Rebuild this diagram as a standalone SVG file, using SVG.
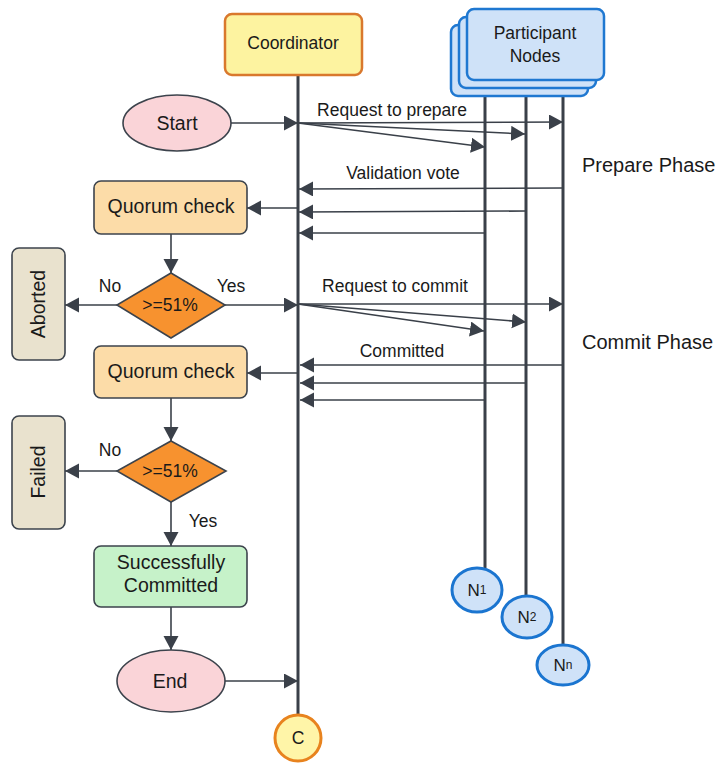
<svg xmlns="http://www.w3.org/2000/svg" width="719" height="764" viewBox="0 0 719 764">
<defs>
<marker id="ah" markerUnits="userSpaceOnUse" markerWidth="15" markerHeight="16" refX="14" refY="7.5" orient="auto">
<path d="M0,0 L14,7.5 L0,15 z" fill="#3a4049"/>
</marker>
<style>
text{font-family:"Liberation Sans",Arial,sans-serif;fill:#1a1a1a;dominant-baseline:central}
.n{font-size:19.5px;text-anchor:middle}
.e{font-size:17.5px;text-anchor:middle}
.p{font-size:20px}
.ln{stroke:#3a4049;stroke-width:1.6;fill:none}
.arr{stroke:#3a4049;stroke-width:1.6;fill:none;marker-end:url(#ah)}
.life{stroke:#3a4049;stroke-width:3;fill:none}
.box{stroke:#3c434c;stroke-width:1.6}
.pbox{fill:#cfe2f8;stroke:#1f78d1;stroke-width:2.5}
</style>
</defs>
<rect width="719" height="764" fill="#ffffff"/>

<g id="lifelines">
<line class="life" x1="298" y1="75" x2="298" y2="715"/>
<line class="life" x1="485" y1="80" x2="485" y2="568"/>
<line class="life" x1="526" y1="80" x2="526" y2="597"/>
<line class="life" x1="563" y1="80" x2="563" y2="646"/>
</g>

<g id="coordinator">
<rect x="225" y="14" width="137" height="61" rx="7" fill="#fdf3a0" stroke="#d9782d" stroke-width="2.5"/>
<text class="e" x="293" y="43">Coordinator</text>
</g>

<g id="participants">
<rect class="pbox" x="451" y="25" width="137" height="71" rx="7"/>
<rect class="pbox" x="459" y="17" width="137" height="71" rx="7"/>
<rect class="pbox" x="467" y="9" width="137" height="71" rx="7"/>
<text class="e" x="535" y="33">Participant</text>
<text class="e" x="535" y="56">Nodes</text>
</g>

<g id="connectors">
<line class="arr" x1="231" y1="123" x2="298" y2="123"/>
<line class="arr" x1="298" y1="123" x2="563" y2="122"/>
<line class="arr" x1="298" y1="123" x2="525" y2="134"/>
<line class="arr" x1="298" y1="123" x2="485" y2="147"/>
<line class="arr" x1="563" y1="188" x2="299" y2="189"/>
<line class="arr" x1="526" y1="211" x2="299" y2="212"/>
<line class="arr" x1="485" y1="233" x2="299" y2="233"/>
<line class="arr" x1="298" y1="208" x2="247" y2="208"/>
<line class="arr" x1="171" y1="234" x2="171" y2="273"/>
<line class="arr" x1="117" y1="305" x2="65" y2="305"/>
<line class="arr" x1="225" y1="305" x2="298" y2="305"/>
<line class="arr" x1="298" y1="304" x2="563" y2="304"/>
<line class="arr" x1="298" y1="304" x2="526" y2="322"/>
<line class="arr" x1="298" y1="304" x2="484" y2="331"/>
<line class="arr" x1="563" y1="365" x2="300" y2="365"/>
<line class="arr" x1="526" y1="383" x2="300" y2="383"/>
<line class="arr" x1="485" y1="400" x2="300" y2="400"/>
<line class="arr" x1="298" y1="373" x2="247" y2="373"/>
<line class="arr" x1="171" y1="398" x2="171" y2="441"/>
<line class="arr" x1="117" y1="471" x2="65" y2="471"/>
<line class="arr" x1="171" y1="502" x2="171" y2="546"/>
<line class="arr" x1="171" y1="607" x2="171" y2="650"/>
<line class="arr" x1="225" y1="681" x2="298" y2="681"/>
<text class="e" x="392" y="110">Request to prepare</text>
<text class="e" x="403" y="173">Validation vote</text>
<text class="e" x="395" y="286">Request to commit</text>
<text class="e" x="402" y="351">Committed</text>
<text class="e" x="110" y="286">No</text>
<text class="e" x="231" y="286">Yes</text>
<text class="e" x="110" y="450">No</text>
<text class="e" x="203" y="521">Yes</text>
</g>

<g id="start">
<ellipse cx="177" cy="123" rx="54" ry="28" fill="#fad4d8" class="box"/>
<text class="n" x="177" y="123">Start</text>
</g>

<g id="quorum1">
<rect class="box" x="94" y="181" width="153" height="53" rx="7" fill="#fcdca8"/>
<text class="n" x="171" y="206">Quorum check</text>
</g>

<g id="decision1">
<polygon class="box" points="171,273 225,305 171,338 117,305" fill="#f7922f"/>
<text class="e" x="170" y="305">&gt;=51%</text>
</g>

<g id="aborted">
<rect class="box" x="12" y="248" width="53" height="112" rx="7" fill="#e9e2ce"/>
<text class="n" x="38" y="304" transform="rotate(-90 38 304)">Aborted</text>
</g>

<g id="quorum2">
<rect class="box" x="94" y="346" width="153" height="52" rx="7" fill="#fcdca8"/>
<text class="n" x="171" y="371">Quorum check</text>
</g>

<g id="decision2">
<polygon class="box" points="171,441 226,471 171,502 117,471" fill="#f7922f"/>
<text class="e" x="170" y="471">&gt;=51%</text>
</g>

<g id="failed">
<rect class="box" x="12" y="416" width="53" height="113" rx="7" fill="#e9e2ce"/>
<text class="n" x="38" y="472" transform="rotate(-90 38 472)">Failed</text>
</g>

<g id="success">
<rect class="box" x="94" y="546" width="153" height="61" rx="7" fill="#c6f2c9"/>
<text class="n" x="171" y="562">Successfully</text>
<text class="n" x="171" y="585">Committed</text>
</g>

<g id="end">
<ellipse cx="171" cy="681" rx="54" ry="31" fill="#fad4d8" class="box"/>
<text class="n" x="170" y="681">End</text>
</g>

<g id="c-node">
<circle cx="298" cy="738" r="23" fill="#fff5a8" stroke="#e8831e" stroke-width="3"/>
<text class="e" x="298" y="738">C</text>
</g>

<g id="n1">
<ellipse cx="477" cy="590" rx="25" ry="22" fill="#cfe2f8" stroke="#1b75d0" stroke-width="3"/>
<text x="477" y="590" font-size="17" text-anchor="middle">N<tspan font-size="12">1</tspan></text>
</g>
<g id="n2">
<ellipse cx="527" cy="617" rx="25" ry="21" fill="#cfe2f8" stroke="#1b75d0" stroke-width="3"/>
<text x="527" y="617" font-size="17" text-anchor="middle">N<tspan font-size="12">2</tspan></text>
</g>
<g id="nn">
<ellipse cx="563" cy="665" rx="26" ry="20" fill="#cfe2f8" stroke="#1b75d0" stroke-width="3"/>
<text x="563" y="665" font-size="17" text-anchor="middle">N<tspan font-size="12">n</tspan></text>
</g>

<g id="phases">
<text class="p" x="582" y="165">Prepare Phase</text>
<text class="p" x="582" y="342">Commit Phase</text>
</g>
</svg>
